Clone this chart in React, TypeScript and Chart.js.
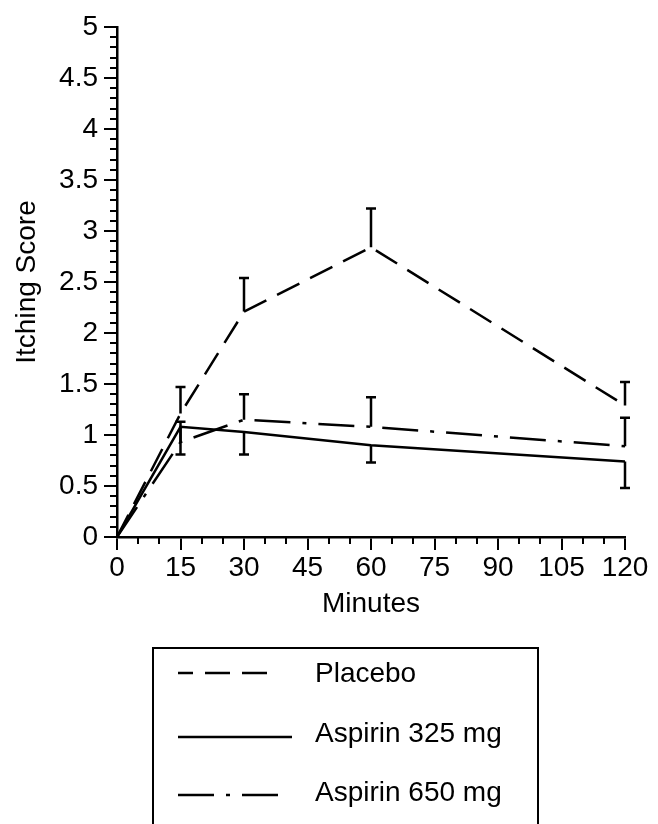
import React, { useEffect, useRef } from "react";
import { Chart, registerables } from "chart.js";

Chart.register(...registerables);

const minutes = [0, 15, 30, 60, 120];
const placebo = [0, 1.21, 2.21, 2.84, 1.29];
const placeboErr = [0, 0.26, 0.33, 0.38, 0.23];
const aspirin325 = [0, 1.08, 1.03, 0.9, 0.74];
const aspirin325Err = [0, 0.27, 0.22, 0.17, 0.26];
const aspirin650 = [0, 0.93, 1.15, 1.08, 0.89];
const aspirin650Err = [0, 0.2, 0.25, 0.29, 0.28];

const seriesLabels = ["Placebo", "Aspirin 325 mg", "Aspirin 650 mg"];
const xTicks = [0, 15, 30, 45, 60, 75, 90, 105, 120];
const yTicks = [0, 0.5, 1, 1.5, 2, 2.5, 3, 3.5, 4, 4.5, 5];
const xLabel = "Minutes";
const yLabel = "Itching Score";

const FONT = "'Liberation Sans', Arial, Helvetica, sans-serif";

// error direction per series: +1 upward, -1 downward
const errSets = [
  { err: placeboErr, dir: 1 },
  { err: aspirin325Err, dir: -1 },
  { err: aspirin650Err, dir: 1 },
];

const errorBarPlugin = {
  id: "errorBars",
  afterDatasetsDraw(chart: any) {
    const { ctx, scales } = chart;
    const xs = scales.x;
    const ys = scales.y;
    ctx.save();
    ctx.strokeStyle = "#000";
    ctx.lineWidth = 2.5;
    ctx.setLineDash([]);
    chart.data.datasets.forEach((ds: any, i: number) => {
      const e = errSets[i];
      ds.data.forEach((p: any, j: number) => {
        const err = e.err[j];
        if (!err) return;
        const px = xs.getPixelForValue(p.x);
        const py0 = ys.getPixelForValue(p.y);
        const py1 = ys.getPixelForValue(p.y + e.dir * err);
        ctx.beginPath();
        ctx.moveTo(px, py0);
        ctx.lineTo(px, py1);
        ctx.moveTo(px - 5, py1);
        ctx.lineTo(px + 5, py1);
        ctx.stroke();
      });
    });
    ctx.restore();
  },
};

const minorTickPlugin = {
  id: "minorTicks",
  afterDraw(chart: any) {
    const { ctx, scales } = chart;
    const xs = scales.x;
    const ys = scales.y;
    ctx.save();
    ctx.strokeStyle = "#000";
    ctx.lineWidth = 2;
    ctx.beginPath();
    for (let v = 0; v <= 120; v += 5) {
      if (v % 15 === 0) continue;
      const px = Math.round(xs.getPixelForValue(v));
      ctx.moveTo(px, ys.bottom);
      ctx.lineTo(px, ys.bottom + 7);
    }
    for (let i = 0; i <= 50; i++) {
      if (i % 5 === 0) continue;
      const py = Math.round(ys.getPixelForValue(i / 10));
      ctx.moveTo(xs.left, py);
      ctx.lineTo(xs.left - 7, py);
    }
    ctx.stroke();
    ctx.restore();
  },
};

const legendBoxPlugin = {
  id: "legendBox",
  afterDraw(chart: any) {
    const { ctx } = chart;
    const boxL = 153, boxT = 648, boxR = 538;
    ctx.save();
    ctx.strokeStyle = "#000";
    ctx.lineWidth = 2;
    ctx.setLineDash([]);
    ctx.strokeRect(boxL, boxT, boxR - boxL, 200);
    const lineYs = [673, 737, 795];
    const textYs = [682, 742, 801];
    const lineEnds = [278, 292, 284];
    chart.data.datasets.forEach((ds: any, i: number) => {
      ctx.beginPath();
      ctx.lineWidth = 2.5;
      ctx.setLineDash(ds.borderDash || []);
      ctx.lineDashOffset = i === 0 ? 10 : 0;
      ctx.moveTo(178, lineYs[i]);
      ctx.lineTo(lineEnds[i], lineYs[i]);
      ctx.stroke();
      ctx.setLineDash([]);
      ctx.fillStyle = "#000";
      ctx.font = `28px ${FONT}`;
      ctx.textAlign = "left";
      ctx.textBaseline = "alphabetic";
      ctx.fillText(ds.label, 315, textYs[i]);
    });
    ctx.restore();
  },
};

export default function App() {
  const ref = useRef<HTMLCanvasElement | null>(null);
  useEffect(() => {
    if (!ref.current) return;
    const mk = (vals: number[]) => minutes.map((m, i) => ({ x: m, y: vals[i] }));
    const base = {
      borderColor: "#000",
      borderWidth: 2.5,
      pointRadius: 0,
      fill: false,
      tension: 0,
    };
    const chart = new Chart(ref.current, {
      type: "line",
      data: {
        datasets: [
          { ...base, label: seriesLabels[0], data: mk(placebo), borderDash: [25, 12] },
          { ...base, label: seriesLabels[1], data: mk(aspirin325), borderDash: [] },
          { ...base, label: seriesLabels[2], data: mk(aspirin650), borderDash: [36, 12, 4, 12] },
        ],
      },
      options: {
        animation: false,
        responsive: false,
        layout: { padding: { left: 0, top: 27, right: 33, bottom: 203 } },
        plugins: { legend: { display: false }, tooltip: { enabled: false } },
        scales: {
          x: {
            type: "linear",
            min: 0,
            max: 120,
            afterBuildTicks: (s: any) => {
              s.ticks = xTicks.map((v) => ({ value: v }));
            },
            ticks: {
              color: "#000",
              font: { family: FONT, size: 28 },
              padding: 1,
              maxRotation: 0,
              autoSkip: false,
              callback: (v: any) => String(v),
            },
            grid: { drawOnChartArea: false, drawTicks: true, tickLength: 13, color: "#000", lineWidth: 2 },
            border: { display: true, color: "#000", width: 2.5 },
            title: {
              display: true,
              text: xLabel,
              color: "#000",
              font: { family: FONT, size: 28 },
              padding: { top: 0, bottom: 0 },
            },
            afterFit: (s: any) => {
              s.height = 84;
            },
          },
          y: {
            type: "linear",
            min: 0,
            max: 5,
            afterBuildTicks: (s: any) => {
              s.ticks = yTicks.map((v) => ({ value: v }));
            },
            ticks: {
              color: "#000",
              font: { family: FONT, size: 28 },
              padding: 6,
              autoSkip: false,
              callback: (v: any) => String(v),
            },
            grid: { drawOnChartArea: false, drawTicks: true, tickLength: 13, color: "#000", lineWidth: 2 },
            border: { display: true, color: "#000", width: 2.5 },
            title: {
              display: true,
              text: yLabel,
              color: "#000",
              font: { family: FONT, size: 28 },
              padding: { top: 10, bottom: 0 },
            },
            afterFit: (s: any) => {
              s.width = 117;
            },
          },
        },
      } as any,
      plugins: [errorBarPlugin, minorTickPlugin, legendBoxPlugin],
    });
    return () => chart.destroy();
  }, []);
  return (
    <div style={{ position: "absolute", left: 0, top: 0, width: 658, height: 824, background: "#fff" }}>
      <canvas ref={ref} width={658} height={824} style={{ display: "block", width: 658, height: 824 }} />
    </div>
  );
}
